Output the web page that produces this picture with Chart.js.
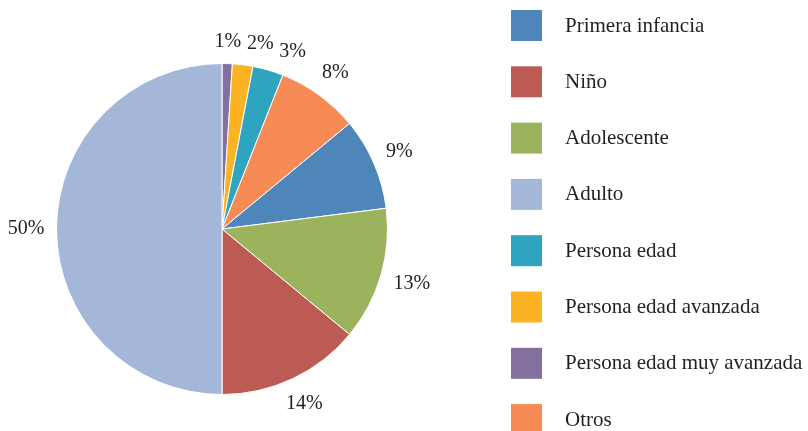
<!DOCTYPE html>
<html>
<head>
<meta charset="utf-8">
<script src="https://cdn.jsdelivr.net/npm/chart.js@4/dist/chart.umd.min.js"></script>
<style>
  html, body { margin: 0; padding: 0; background: #fff; }
  #wrap { width: 808px; height: 431px; }
</style>
</head>
<body>
<div id="wrap"><canvas id="pieChart" width="808" height="431"></canvas></div>
<script>
// slices in drawing order (clockwise from 12 o'clock)
const categorias = ['Persona edad muy avanzada', 'Persona edad avanzada', 'Persona edad', 'Otros',
                    'Primera infancia', 'Adolescente', 'Niño', 'Adulto'];
const porcentajes = [1, 2, 3, 8, 9, 13, 14, 50];
const colores = ['#84709F', '#FBB324', '#2EA4BE', '#F68B55', '#4F86BA', '#9CB35E', '#BC5A54', '#A4B7D9'];
// order of the legend entries
const ordenLeyenda = ['Primera infancia', 'Niño', 'Adolescente', 'Adulto', 'Persona edad',
                      'Persona edad avanzada', 'Persona edad muy avanzada', 'Otros'];

const fuente = '"Liberation Serif", "DejaVu Serif", serif';

function seTocan(a, b) {
  return !(a.x2 + 5 < b.x1 || b.x2 + 5 < a.x1 || a.y2 < b.y1 || b.y2 < a.y1);
}

const etiquetasFuera = {
  id: 'etiquetasFuera',
  afterDatasetsDraw(chart) {
    const ctx = chart.ctx;
    const meta = chart.getDatasetMeta(0);
    ctx.save();
    ctx.font = '20px ' + fuente;
    ctx.fillStyle = '#231F20';
    ctx.textAlign = 'center';
    ctx.textBaseline = 'middle';
    let anterior = null;
    meta.data.forEach((arc, i) => {
      const p = arc.getProps(['x', 'y', 'startAngle', 'endAngle', 'outerRadius'], true);
      const texto = porcentajes[i] + '%';
      const w = ctx.measureText(texto).width;
      const h = 18;
      let ang = (p.startAngle + p.endAngle) / 2;
      let caja;
      // move the label along the ring until it clears the previous one
      for (let k = 0; k < 60; k++) {
        const d = p.outerRadius + 12 + Math.abs(Math.cos(ang)) * w / 2 + Math.abs(Math.sin(ang)) * h / 2;
        const cx = p.x + Math.cos(ang) * d;
        const cy = p.y + Math.sin(ang) * d;
        caja = { cx, cy, x1: cx - w / 2, x2: cx + w / 2, y1: cy - h / 2, y2: cy + h / 2 };
        if (!anterior || !seTocan(caja, anterior)) break;
        ang += Math.PI / 360;
      }
      ctx.fillText(texto, caja.cx, caja.cy);
      anterior = caja;
    });
    ctx.restore();
  }
};

const leyenda = {
  id: 'leyenda',
  afterDraw(chart) {
    const ctx = chart.ctx;
    ctx.save();
    ctx.font = '21px ' + fuente;
    ctx.textBaseline = 'middle';
    ctx.textAlign = 'left';
    ordenLeyenda.forEach((nombre, i) => {
      const idx = categorias.indexOf(nombre);
      const y = 10 + i * 56.3;
      ctx.fillStyle = colores[idx];
      ctx.fillRect(511, y, 31, 31);
      ctx.fillStyle = '#231F20';
      ctx.fillText(nombre, 565, y + 16);
    });
    ctx.restore();
  }
};

const ctx = document.getElementById('pieChart').getContext('2d');
const chart = new Chart(ctx, {
  type: 'pie',
  data: {
    labels: categorias,
    datasets: [{
      data: porcentajes,
      backgroundColor: colores,
      borderColor: '#ffffff',
      borderWidth: 1
    }]
  },
  options: {
    responsive: false,
    animation: false,
    layout: { padding: { left: 56, right: 420, top: 63, bottom: 36 } },
    plugins: {
      legend: { display: false },
      tooltip: { enabled: false }
    }
  },
  plugins: [etiquetasFuera, leyenda]
});
</script>
</body>
</html>
